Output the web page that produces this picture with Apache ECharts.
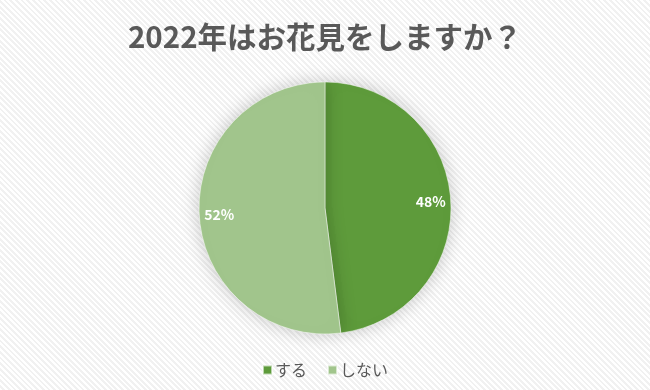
<!DOCTYPE html>
<html><head><meta charset="utf-8">
<script src="https://cdn.jsdelivr.net/npm/echarts@6/dist/echarts.min.js"></script>
<style>
html,body{margin:0;padding:0;}
body{width:650px;height:390px;background:#fff repeating-linear-gradient(45deg,#ffffff 0px,#ffffff 2px,#f1f1f1 2px,#f1f1f1 4px);}
#c{width:650px;height:390px;}
</style></head>
<body><div id="c"></div>
<script>
const titleText = '2022年はお花見をしますか？';
const categories = ['する', 'しない'];
const values = [48, 52];
const colors = ['#5e9b3b', '#a1c58c'];

const chart = echarts.init(document.getElementById('c'), null, {renderer:'canvas'});
const data = categories.map((n,i)=>({name:n, value:values[i], itemStyle:{color:colors[i]}}));
chart.setOption({
  backgroundColor:'transparent',
  title:{text:titleText, left:'center', top:17,
    textStyle:{fontFamily:'Noto Sans CJK JP', fontSize:29.5, fontWeight:'bold', color:'#595959'}},
  legend:{bottom:7, left:'center', itemWidth:9, itemHeight:9, itemGap:20, icon:'rect',
    data:categories,
    textStyle:{fontFamily:'Noto Sans CJK JP', fontSize:16, color:'#595959', padding:[0,0,0,-2]}},
  series:[
    {type:'pie', radius:[0,126], center:[325,208], startAngle:90, clockwise:true,
     label:{show:false}, labelLine:{show:false}, silent:true,
     itemStyle:{borderColor:'rgba(255,255,255,0.6)', borderWidth:0.8, shadowBlur:18, shadowColor:'rgba(0,0,0,0.22)'},
     data:data},
    {type:'pie', radius:[80,126], center:[325,208], startAngle:90, clockwise:true, silent:true,
     itemStyle:{color:'transparent'}, labelLine:{show:false},
     label:{show:true, position:'inside', formatter:'{c}%', color:'#ffffff',
       fontFamily:'Noto Sans CJK JP', fontSize:14, fontWeight:'bold'},
     data:categories.map((n,i)=>({name:n, value:values[i]}))}
  ]
});
</script></body></html>
